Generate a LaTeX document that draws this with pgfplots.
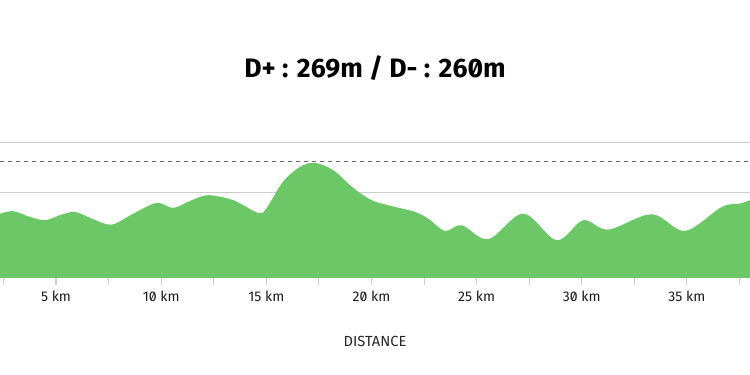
\documentclass[border=0pt]{standalone}
\usepackage{pgfplots}
\pgfplotsset{compat=1.18}
\usepackage{fontspec}
\setmainfont{Fira Sans}[Numbers=SlashedZero]
\definecolor{elev}{HTML}{6CC866}
\definecolor{gridc}{HTML}{CCCCCC}
\definecolor{dashc}{HTML}{666666}
\begin{document}
\begin{tikzpicture}[x=1pt,y=1pt]
\useasboundingbox (0,0) rectangle (562.5,281.25);
\begin{axis}[
  at={(0,97.1)}, anchor=south west,
  scale only axis, width=562.5pt, height=105.225pt,
  xmin=2.337, xmax=38.0, ymin=0, ymax=140.3,
  axis y line=none,
  axis x line*=bottom,
  x axis line style={gridc, line width=0.8pt, -},
  xtick={5,10,...,35},
  minor xtick={2.5,7.5,...,37.5},
  xticklabels={5 km,10 km,15 km,20 km,25 km,30 km,35 km},
  xtick style={gridc, line width=0.8pt},
  major tick length=5pt, minor tick length=5pt,
  tick align=outside,
  xticklabel style={font=\fontsize{10.5}{12}\selectfont, text=black!90, yshift=-1pt},
  clip=true,
]
\addplot[gridc, line width=0.9pt] coordinates {(2.0,85.3) (38.3,85.3)};
\addplot[gridc, line width=0.9pt] coordinates {(2.0,135.3) (38.3,135.3)};
\addplot[fill=elev, draw=none, smooth, tension=0.55] coordinates {
(2.0,62.5) (2.337,64.3) (2.97,66.7) (3.76,61) (4.48,57.7) (5.19,62.7) (5.90,66)
(6.77,58.7) (7.65,53.3) (8.68,64.3) (9.79,75) (10.58,70) (11.45,77.7)
(12.24,82.7) (13.43,77.7) (14.62,65) (15.02,70) (15.79,96) (16.6,111)
(17.32,115) (18.19,107.7) (18.98,92.7) (19.61,82.7) (20.17,76.3) (21.12,71)
(22.07,66) (22.70,59.3) (23.50,47) (24.29,52.7) (25.56,38.7) (27.22,64.3)
(28.81,37.7) (30.07,57.7) (31.26,48.3) (33.33,63.7) (34.91,47) (36.66,71)
(37.52,74.3) (38.0,77.7) (38.3,80)
} \closedcycle;
\addplot[dashc, line width=0.8pt, dash pattern=on 3pt off 3pt] coordinates {(2.337,116.7) (38.0,116.7)};
\end{axis}
\node[font=\fontsize{20}{24}\bfseries\selectfont] at (281.25,230.25) {D+ : 269m / D- : 260m};
\node[font=\fontsize{11}{13}\selectfont, text=black!85] at (281.25,25.5) {DISTANCE};
\end{tikzpicture}
\end{document}
